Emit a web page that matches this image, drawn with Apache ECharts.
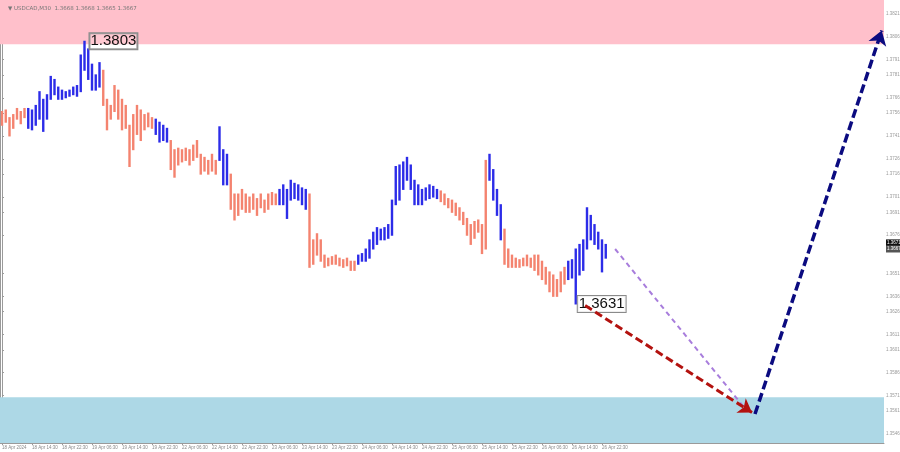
<!DOCTYPE html>
<html><head><meta charset="utf-8">
<script src="https://cdn.jsdelivr.net/npm/echarts@6/dist/echarts.min.js"></script>
<style>html,body{margin:0;padding:0;background:#fff}#c{width:900px;height:452px}</style>
</head><body><div id="c"></div>
<script>
// hourly bar highs / lows (index = hours from 18 Apr 06:30, trading time)
const highs = [1.3757,1.3758,1.3753,1.3755,1.3759,1.3757,1.3759,1.3759,1.3758,1.3761,
1.3770,1.3765,1.3768,1.3780,1.3778,1.3773,1.3771,1.3770,1.3771,1.3773,
1.3774,1.3794,1.3803,1.3798,1.3788,1.3781,1.3789,1.3784,1.3765,1.3761,
1.3774,1.3771,1.3765,1.3761,1.3748,1.3755,1.3761,1.3758,1.3755,1.3756,
1.3753,1.3752,1.3750,1.3748,1.3746,1.3738,1.3732,1.3733,1.3732,1.3733,
1.3732,1.3735,1.3738,1.3729,1.3727,1.3725,1.3729,1.3725,1.3747,1.3732,
1.3729,1.3716,1.3703,1.3703,1.3706,1.3703,1.3701,1.3703,1.3700,1.3703,
1.3699,1.3703,1.3704,1.3703,1.3706,1.3709,1.3706,1.3712,1.3710,1.3709,
1.3707,1.3706,1.3703,1.3673,1.3677,1.3673,1.3663,1.3661,1.3662,1.3663,
1.3661,1.3660,1.3661,1.3659,1.3659,1.3663,1.3664,1.3667,1.3673,1.3678,
1.3681,1.3680,1.3681,1.3683,1.3699,1.3721,1.3722,1.3724,1.3727,1.3722,
1.3712,1.3709,1.3706,1.3707,1.3709,1.3708,1.3706,1.3705,1.3703,1.3700,
1.3699,1.3697,1.3694,1.3691,1.3687,1.3683,1.3685,1.3686,1.3683,1.3725,
1.3729,1.3719,1.3706,1.3696,1.3680,1.3667,1.3663,1.3661,1.3660,1.3661,
1.3663,1.3661,1.3663,1.3663,1.3659,1.3655,1.3652,1.3650,1.3647,1.3652,
1.3655,1.3659,1.3660,1.3667,1.3670,1.3673,1.3694,1.3689,1.3683,1.3678,
1.3673,1.3670];
const lows = [1.3748,1.3750,1.3741,1.3746,1.3752,1.3749,1.3753,1.3746,1.3745,1.3748,
1.3752,1.3744,1.3752,1.3765,1.3768,1.3765,1.3765,1.3766,1.3767,1.3768,
1.3767,1.3770,1.3784,1.3778,1.3771,1.3771,1.3773,1.3761,1.3745,1.3752,
1.3757,1.3752,1.3745,1.3746,1.3721,1.3732,1.3742,1.3738,1.3745,1.3747,
1.3746,1.3742,1.3737,1.3738,1.3737,1.3719,1.3714,1.3722,1.3724,1.3725,
1.3722,1.3725,1.3727,1.3716,1.3718,1.3716,1.3718,1.3716,1.3725,1.3709,
1.3709,1.3693,1.3686,1.3689,1.3693,1.3691,1.3691,1.3693,1.3689,1.3694,
1.3691,1.3693,1.3696,1.3696,1.3696,1.3696,1.3687,1.3699,1.3700,1.3699,
1.3696,1.3693,1.3655,1.3657,1.3663,1.3659,1.3655,1.3656,1.3657,1.3657,
1.3656,1.3655,1.3656,1.3653,1.3653,1.3657,1.3659,1.3659,1.3661,1.3667,
1.3670,1.3673,1.3673,1.3674,1.3676,1.3696,1.3699,1.3706,1.3712,1.3706,
1.3696,1.3696,1.3696,1.3699,1.3700,1.3701,1.3700,1.3698,1.3696,1.3694,
1.3691,1.3689,1.3686,1.3683,1.3676,1.3670,1.3674,1.3678,1.3664,1.3667,
1.3712,1.3699,1.3689,1.3673,1.3657,1.3655,1.3655,1.3655,1.3655,1.3656,
1.3656,1.3655,1.3653,1.3650,1.3647,1.3644,1.3639,1.3636,1.3636,1.3639,
1.3644,1.3647,1.3648,1.3631,1.3650,1.3653,1.3667,1.3673,1.3670,1.3667,
1.3652,1.3661];
// wave segments: [start index, wave kind]
const waveStarts = [0,7,27,41,45,58,61,74,82,95,117,130,134,151];
const waveKinds  = ['down','up','down','up','down','up','down','up','down','up','down','up','down','up'];

const timeTicks = [0,8,16,24,32,40,48,56,64,72,80,88,96,104,112,120,128,136,144,152,160];
const timeLabels = ['18 Apr 2024','18 Apr 14:30','18 Apr 22:30','19 Apr 06:30','19 Apr 14:30','19 Apr 22:30',
'22 Apr 06:30','22 Apr 14:30','22 Apr 22:30','23 Apr 06:30','23 Apr 14:30','23 Apr 22:30',
'24 Apr 06:30','24 Apr 14:30','24 Apr 22:30','25 Apr 06:30','25 Apr 14:30','25 Apr 22:30',
'26 Apr 06:30','26 Apr 14:30','26 Apr 22:30'];
const priceTicks = [1.3821,1.3806,1.3791,1.3781,1.3766,1.3756,1.3741,1.3726,1.3716,1.3701,1.3691,1.3676,
1.3651,1.3636,1.3626,1.3611,1.3601,1.3586,1.3571,1.3561,1.3546];
const priceBoxes = [1.3671, 1.3667];

const resistanceZone = [1.3801, 1.3830];
const supportZone = [1.3540, 1.3570];

const highLabel = {idx: 22, price: 1.3803, text: '1.3803'};
const lowLabel = {idx: 153, price: 1.3631, text: '1.3631'};

const arrowRed = [[155.5, 1.3630], [200, 1.3560]];
const arrowPurple = [[163.5, 1.3667], [198, 1.3563]];
const arrowNavy = [[200.8, 1.3559], [234.6, 1.3810]];

const header = '\u25BC USDCAD,M30  1.3668 1.3668 1.3665 1.3667';

const X_MIN = -0.533, X_MAX = 235.2;
function kindAt(i){ let k = waveKinds[0]; for (let s=0;s<waveStarts.length;s++){ if(i>=waveStarts[s]) k = waveKinds[s]; } return k; }
const barData = highs.map((h,i)=>[i,h,lows[i]]);
const COL = {up:'#2c2ce8', down:'#f4836f'};

const boxPoints = priceBoxes.map((v,k)=>({coord:[X_MAX, v], value:v,
  label:{show:true, position:'right', distance:2, formatter:v.toFixed(4), fontSize:4.5, color:'#fff',
    fontFamily:'Liberation Sans', backgroundColor:k===0?'#111':'#555', padding:[1,1]}}));

const chart = echarts.init(document.getElementById('c'), null, {renderer:'canvas'});
chart.setOption({
  animation:false,
  backgroundColor:'#ffffff',
  title:{text:header, left:3, top:1, textStyle:{fontSize:5.5, color:'#777', fontWeight:'normal', fontFamily:'DejaVu Sans'}},
  grid:{left:0, right:16, top:0, bottom:9, outerBoundsMode:'none', containLabel:false},
  xAxis:{type:'value', min:X_MIN, max:X_MAX,
    splitLine:{show:false},
    axisLine:{show:true, lineStyle:{color:'#9a9a9a'}},
    axisTick:{show:true, length:2, customValues:timeTicks, lineStyle:{color:'#9a9a9a'}},
    axisLabel:{customValues:timeTicks, fontSize:4.5, color:'#888', margin:2, align:'left', fontFamily:'Liberation Sans',
      showMinLabel:true, showMaxLabel:true, hideOverlap:false,
      formatter:(v)=>{const k=timeTicks.indexOf(Math.round(v)); return k>=0?timeLabels[k]:'';}}},
  yAxis:[{type:'value', position:'right', min:1.3540, max:1.3830,
    splitLine:{show:false},
    axisLine:{show:true, lineStyle:{color:'#9a9a9a'}},
    axisTick:{show:true, length:2, inside:false, customValues:priceTicks, lineStyle:{color:'#9a9a9a'}},
    axisLabel:{customValues:priceTicks, fontSize:4.5, color:'#999', margin:2, fontFamily:'Liberation Sans',
      showMinLabel:true, showMaxLabel:true, hideOverlap:false,
      formatter:(v)=>v.toFixed(4)}},
   {type:'value', position:'left', min:1.3540, max:1.3830, axisLine:{show:true, lineStyle:{color:'#9a9a9a'}},
    axisLabel:{show:false}, axisTick:{show:false}, splitLine:{show:false}}],
  series:[
    {type:'custom', name:'bars', data:barData, z:3,
      renderItem:(params, api)=>{
        const i = api.value(0);
        const p1 = api.coord([i, api.value(1)]);
        const p2 = api.coord([i, api.value(2)]);
        return {type:'line', shape:{x1:p1[0], y1:p1[1]-0.5, x2:p2[0], y2:p2[1]+0.5},
          style:{stroke:COL[kindAt(i)], lineWidth:2.4}};
      },
      encode:{x:0, y:[1,2]},
      markArea:{silent:true, data:[
        [{yAxis:resistanceZone[0], itemStyle:{color:'#ffc0cb'}}, {yAxis:resistanceZone[1]}],
        [{yAxis:supportZone[0], itemStyle:{color:'#add8e6'}}, {yAxis:supportZone[1]}]
      ]},
      markPoint:{symbol:'rect', symbolSize:0.01, silent:true, data:[
        {coord:[highLabel.idx, highLabel.price], value:highLabel.text,
          label:{show:true, position:'right', distance:5, formatter:highLabel.text, fontSize:15, color:'#111',
            fontFamily:'Liberation Sans', borderColor:'#8a8a8a', borderWidth:1, padding:[1,1,0,1], backgroundColor:'rgba(255,255,255,0.15)'}},
        {coord:[lowLabel.idx, lowLabel.price], value:lowLabel.text,
          label:{show:true, position:'right', distance:2, formatter:lowLabel.text, fontSize:15, color:'#111',
            fontFamily:'Liberation Sans', borderColor:'#8a8a8a', borderWidth:1, padding:[1,1,0,1], backgroundColor:'rgba(255,255,255,0.85)'}}
      ].concat(boxPoints)}
    },
    {type:'lines', coordinateSystem:'cartesian2d', z:5, polyline:false,
      symbol:['none','none'],
      lineStyle:{color:'#a87ddc', width:2, type:[5,4], opacity:1},
      data:[{coords:arrowPurple}]},
    {type:'lines', coordinateSystem:'cartesian2d', z:6,
      symbol:['none','arrow'], symbolSize:13,
      lineStyle:{color:'#b3120f', width:3, type:[8,4], opacity:1},
      data:[{coords:arrowRed}]},
    {type:'lines', coordinateSystem:'cartesian2d', z:6,
      symbol:['none','arrow'], symbolSize:14,
      lineStyle:{color:'#0b0b80', width:3.5, type:[9,4], opacity:1},
      data:[{coords:arrowNavy}]}
  ]
});
</script></body></html>
